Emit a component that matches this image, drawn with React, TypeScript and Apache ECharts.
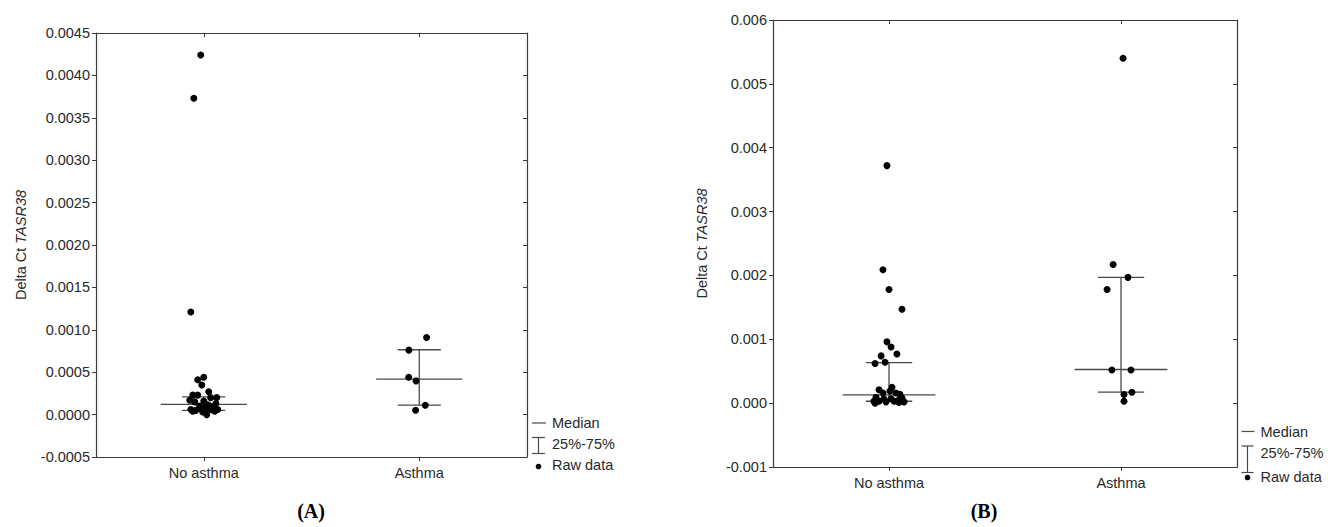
import React, { useEffect, useRef } from "react";
import * as echarts from "echarts";

const categories = ["No asthma", "Asthma"];

// Panel A raw data (value, horizontal jitter in band units)
const aNoAsthmaValues = [0.00424, 0.00373, 0.00121, 0.00044, 0.00041, 0.00035, 0.00027, 0.00023, 0.00023, 0.0002, 0.0002, 0.00017, 0.00016, 0.00013, 0.00015, 0.00012, 0.0001, 0.00009, 0.00006, 0.00005, 0.00008, 0.00006, 0.00005, 0.00003, 0.0, 0.00004, 0.00004, 0.00011, 0.00007, 0.00006];
const aNoAsthmaJitter = [-0.014, -0.046, -0.06, 0.0, -0.028, -0.009, 0.023, -0.051, -0.028, 0.06, 0.032, -0.065, 0.0, 0.056, -0.042, 0.014, -0.019, 0.037, -0.06, -0.037, 0.009, 0.028, 0.046, -0.005, 0.014, 0.051, -0.051, 0.023, -0.014, 0.065];
const aAsthmaValues = [0.00091, 0.00076, 0.00044, 0.000398, 0.000111, 0.000052];
const aAsthmaJitter = [0.034, -0.048, -0.049, -0.015, 0.028, -0.017];
const aQ1 = [0.00005, 0.000111];
const aMedian = [0.00012, 0.000419];
const aQ3 = [0.00021, 0.000765];
const aTicks = { min: -0.0005, max: 0.0045, interval: 0.0005 };

// Panel B raw data
const bNoAsthmaValues = [0.00372, 0.00209, 0.00178, 0.00147, 0.00096, 0.00088, 0.00077, 0.00074, 0.00064, 0.00062, 0.00021, 0.00016, 0.00025, 0.00019, 0.00016, 0.00014, 0.00008, 0.00009, 0.00003, 0.00003, 0.00007, 0.00002, 0.00007, 0.00003, 0.00004, 0.00002, 0.00001, 0.0];
const bNoAsthmaJitter = [-0.009, -0.026, 0.0, 0.056, -0.009, 0.009, 0.034, -0.034, -0.017, -0.06, -0.043, -0.026, 0.013, 0.004, 0.03, 0.047, 0.056, -0.056, -0.065, -0.043, -0.022, -0.013, 0.009, 0.022, 0.039, 0.065, 0.043, -0.06];
const bAsthmaValues = [0.0054, 0.00217, 0.00197, 0.00178, 0.00052, 0.00052, 0.00017, 0.000136, 0.00003];
const bAsthmaJitter = [0.009, -0.034, 0.03, -0.06, -0.039, 0.043, 0.047, 0.013, 0.013];
const bQ1 = [0.00003, 0.000172];
const bMedian = [0.00013, 0.000527];
const bQ3 = [0.000635, 0.00197];
const bTicks = { min: -0.001, max: 0.006, interval: 0.001 };

const FONT = "'Liberation Sans', Arial, sans-serif";
const AXIS_COLOR = "#3a3a3a";
const TEXT_COLOR = "#2a2a2a";
const STAT_COLOR = "#4a4a4a";

function points(values: number[], jitter: number[], idx: number) {
  return values.map((v, i) => [idx + 0.5 + jitter[i], v]);
}

function buildPanel(
  gi: number,
  grid: any,
  ticks: { min: number; max: number; interval: number },
  decimals: number,
  groups: { values: number[]; jitter: number[] }[],
  q1: number[],
  med: number[],
  q3: number[]
) {
  const xBase = gi * 3;
  const yBase = gi * 2;
  const line = { show: true, onZero: false, lineStyle: { color: AXIS_COLOR, width: 1.2 } };
  const xAxes = [
    {
      type: "category",
      gridIndex: gi,
      data: categories,
      position: "bottom",
      axisLine: line,
      axisTick: { show: true, alignWithLabel: true, inside: false, length: 4, lineStyle: { color: AXIS_COLOR } },
      axisLabel: { color: TEXT_COLOR, fontSize: 14.5, fontFamily: FONT, margin: 8 },
      splitLine: { show: false },
    },
    {
      type: "category",
      gridIndex: gi,
      data: categories,
      position: "top",
      axisLine: line,
      axisTick: { show: true, alignWithLabel: true, inside: true, length: 4, lineStyle: { color: AXIS_COLOR } },
      axisLabel: { show: false },
      splitLine: { show: false },
    },
    { type: "value", gridIndex: gi, min: 0, max: 2, show: false, splitLine: { show: false } },
  ];
  const yAxes = [
    {
      type: "value",
      gridIndex: gi,
      position: "left",
      min: ticks.min,
      max: ticks.max,
      interval: ticks.interval,
      name: "{a|Delta Ct }{b|TASR38}",
      nameLocation: "middle",
      nameGap: gi === 0 ? 68 : 64,
      nameRotate: 90,
      nameTextStyle: {
        rich: {
          a: { fontSize: 14.5, fontFamily: FONT, color: TEXT_COLOR },
          b: { fontSize: 14.5, fontFamily: FONT, color: TEXT_COLOR, fontStyle: "italic" },
        },
      },
      axisLine: line,
      axisTick: { show: true, inside: false, length: 4, lineStyle: { color: AXIS_COLOR } },
      axisLabel: {
        color: TEXT_COLOR,
        fontSize: 14.5,
        fontFamily: FONT,
        margin: 6,
        formatter: (v: number) => v.toFixed(decimals),
      },
      splitLine: { show: false },
    },
    {
      type: "value",
      gridIndex: gi,
      position: "right",
      min: ticks.min,
      max: ticks.max,
      interval: ticks.interval,
      axisLine: line,
      axisTick: { show: true, inside: true, length: 4, lineStyle: { color: AXIS_COLOR } },
      axisLabel: { show: false },
      splitLine: { show: false },
    },
  ];
  const statData = categories.map((_, i) => [i + 0.5, q1[i], med[i], q3[i]]);
  const series: any[] = [
    {
      type: "custom",
      xAxisIndex: xBase + 2,
      yAxisIndex: yBase,
      data: statData,
      z: 2,
      renderItem: (_params: any, api: any) => {
        const cx = api.value(0);
        const vq1 = api.value(1);
        const vm = api.value(2);
        const vq3 = api.value(3);
        const style = { stroke: STAT_COLOR, lineWidth: 1.3 };
        const mL = api.coord([cx - 0.2, vm]);
        const mR = api.coord([cx + 0.2, vm]);
        const q1L = api.coord([cx - 0.1, vq1]);
        const q1R = api.coord([cx + 0.1, vq1]);
        const q3L = api.coord([cx - 0.1, vq3]);
        const q3R = api.coord([cx + 0.1, vq3]);
        const c1 = api.coord([cx, vq1]);
        const c3 = api.coord([cx, vq3]);
        return {
          type: "group",
          children: [
            { type: "line", shape: { x1: mL[0], y1: mL[1], x2: mR[0], y2: mR[1] }, style },
            { type: "line", shape: { x1: q1L[0], y1: q1L[1], x2: q1R[0], y2: q1R[1] }, style },
            { type: "line", shape: { x1: q3L[0], y1: q3L[1], x2: q3R[0], y2: q3R[1] }, style },
            { type: "line", shape: { x1: c1[0], y1: c1[1], x2: c3[0], y2: c3[1] }, style },
          ],
        };
      },
    },
  ];
  groups.forEach((g, i) => {
    series.push({
      type: "scatter",
      xAxisIndex: xBase + 2,
      yAxisIndex: yBase,
      data: points(g.values, g.jitter, i),
      symbol: "circle",
      symbolSize: 7,
      itemStyle: { color: "#000", opacity: 1 },
      z: 3,
      silent: true,
    });
  });
  return { grid, xAxes, yAxes, series };
}

function legend(x: number, medY: number, barTop: number, barBottom: number, barLabelY: number, dotY: number, rawY: number, capHalf: number) {
  const style = { stroke: STAT_COLOR, lineWidth: 1.2 };
  const textStyle = (t: string) => ({ text: t, fontSize: 14.5, fontFamily: FONT, fill: TEXT_COLOR, verticalAlign: "middle", align: "left" });
  const cx = x + capHalf;
  return [
    { type: "line", shape: { x1: x, y1: medY, x2: x + 2 * capHalf + 1, y2: medY }, style },
    { type: "text", x: x + 2 * capHalf + 7, y: medY, style: textStyle("Median") },
    { type: "line", shape: { x1: x, y1: barTop, x2: x + 2 * capHalf, y2: barTop }, style },
    { type: "line", shape: { x1: x, y1: barBottom, x2: x + 2 * capHalf, y2: barBottom }, style },
    { type: "line", shape: { x1: cx, y1: barTop, x2: cx, y2: barBottom }, style },
    { type: "text", x: x + 2 * capHalf + 7, y: barLabelY, style: textStyle("25%-75%") },
    { type: "circle", shape: { cx: cx, cy: dotY, r: 2.8 }, style: { fill: "#000" } },
    { type: "text", x: x + 2 * capHalf + 7, y: rawY, style: textStyle("Raw data") },
  ];
}

export default function App() {
  const ref = useRef<HTMLDivElement>(null);
  useEffect(() => {
    if (!ref.current) return;
    const chart = echarts.init(ref.current, undefined, { renderer: "svg" });
    const A = buildPanel(
      0,
      { left: 96, top: 33, width: 431, height: 424 },
      aTicks,
      4,
      [
        { values: aNoAsthmaValues, jitter: aNoAsthmaJitter },
        { values: aAsthmaValues, jitter: aAsthmaJitter },
      ],
      aQ1,
      aMedian,
      aQ3
    );
    const B = buildPanel(
      1,
      { left: 773, top: 20, width: 464, height: 447 },
      bTicks,
      3,
      [
        { values: bNoAsthmaValues, jitter: bNoAsthmaJitter },
        { values: bAsthmaValues, jitter: bAsthmaJitter },
      ],
      bQ1,
      bMedian,
      bQ3
    );
    const graphic: any[] = [
      ...legend(532, 423, 437.5, 453.5, 444, 466.5, 465, 6.5),
      ...legend(1241.5, 431.5, 446, 472.5, 452.5, 477.5, 476.5, 6),
      {
        type: "text",
        x: 311,
        y: 511,
        style: { text: "(A)", fontSize: 20, fontFamily: "'Liberation Serif', 'Times New Roman', serif", fontWeight: "bold", fill: "#000", align: "center", verticalAlign: "middle" },
      },
      {
        type: "text",
        x: 984,
        y: 511,
        style: { text: "(B)", fontSize: 20, fontFamily: "'Liberation Serif', 'Times New Roman', serif", fontWeight: "bold", fill: "#000", align: "center", verticalAlign: "middle" },
      },
    ];
    chart.setOption({
      animation: false,
      backgroundColor: "#ffffff",
      textStyle: { fontFamily: FONT },
      grid: [A.grid, B.grid],
      xAxis: [...A.xAxes, ...B.xAxes],
      yAxis: [...A.yAxes, ...B.yAxes],
      series: [...A.series, ...B.series],
      graphic,
    });
    return () => chart.dispose();
  }, []);
  return <div ref={ref} style={{ position: "absolute", left: 0, top: 0, width: 1328, height: 527 }} />;
}
